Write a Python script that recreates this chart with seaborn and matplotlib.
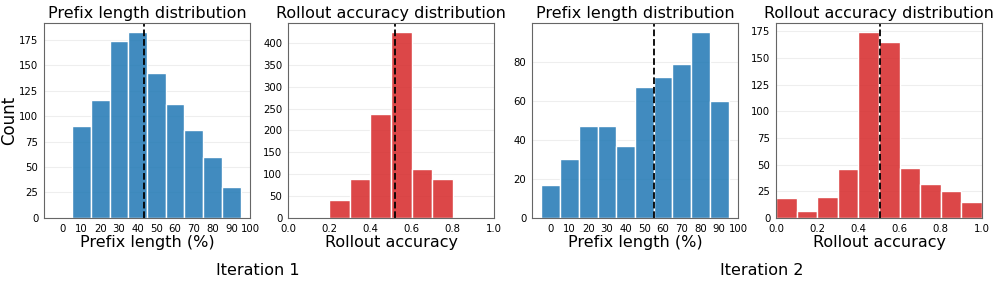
import numpy as np
import pandas as pd
import matplotlib
matplotlib.use("Agg")
from matplotlib import pyplot as plt
import seaborn as sns

# prefix length bins (%), centres of 10-wide bins
it1_prefix = [10, 20, 30, 40, 50, 60, 70, 80, 90]
it1_prefix_count = [90, 116, 174, 182, 142, 112, 86, 60, 30]
it1_prefix_mean = 43.5

it1_acc = [0.25, 0.35, 0.45, 0.55, 0.65, 0.75]
it1_acc_count = [40, 89, 238, 424, 112, 89]
it1_acc_mean = 0.52

it2_prefix = [0, 10, 20, 30, 40, 50, 60, 70, 80, 90]
it2_prefix_count = [17, 30, 47, 47, 37, 67, 72, 79, 95, 60]
it2_prefix_mean = 55

it2_acc = [0.05, 0.15, 0.25, 0.35, 0.45, 0.55, 0.65, 0.75, 0.85, 0.95]
it2_acc_count = [19, 7, 20, 46, 174, 165, 47, 32, 25, 15]
it2_acc_mean = 0.505

sns.set_style("white")
plt.rcParams['font.family'] = ['DejaVu Sans']
plt.rcParams['text.color'] = 'black'
plt.rcParams['axes.labelcolor'] = 'black'
plt.rcParams['xtick.color'] = 'black'
plt.rcParams['ytick.color'] = 'black'

fig, axes = plt.subplots(1, 4, figsize=(9.97, 2.82), dpi=100)
plt.subplots_adjust(left=0.0441, right=0.985, bottom=0.227, top=0.918, wspace=0.184)

blue = "#1f77b4"
red = "#d62728"

panels = [
    (it1_prefix, it1_prefix_count, it1_prefix_mean, 10, (5, 95), blue, "prefix"),
    (it1_acc, it1_acc_count, it1_acc_mean, 0.1, (0.2, 0.8), red, "acc"),
    (it2_prefix, it2_prefix_count, it2_prefix_mean, 10, (-5, 95), blue, "prefix"),
    (it2_acc, it2_acc_count, it2_acc_mean, 0.1, (0.0, 1.0), red, "acc"),
]

for ax, (x, w, m, bw, br, col, kind) in zip(axes, panels):
    df = pd.DataFrame({"value": x, "count": w})
    sns.histplot(data=df, x="value", weights="count", binwidth=bw, binrange=br,
                 color=col, alpha=0.85, edgecolor="white", ax=ax)
    ax.axvline(m, color="black", linestyle="--", linewidth=1.3)
    ax.grid(axis="y", color="#eeeeee", linewidth=0.8)
    ax.set_axisbelow(True)
    for s in ax.spines.values():
        s.set_color("#666666")
    ax.tick_params(labelsize=7.3, length=2.5, pad=1.5, color="#555555")
    if kind == "prefix":
        ax.set_xlim(-10, 100)
        ax.set_xticks(range(0, 101, 10))
        ax.set_title("Prefix length distribution", fontsize=11.5, pad=4)
        ax.set_xlabel("Prefix length (%)", fontsize=11.5, labelpad=1)
    else:
        ax.set_xlim(0, 1)
        ax.set_xticks(np.arange(0, 1.01, 0.2))
        ax.set_title("Rollout accuracy distribution", fontsize=11.5, pad=4)
        ax.set_xlabel("Rollout accuracy", fontsize=11.5, labelpad=1)
    ax.set_ylabel("")

axes[0].set_ylabel("Count", fontsize=12, labelpad=1)
axes[0].set_yticks(range(0, 176, 25))
axes[1].set_yticks(range(0, 401, 50))
axes[2].set_yticks(range(0, 81, 20))
axes[3].set_yticks(range(0, 176, 25))

fig.text(0.259, 0.025, "Iteration 1", fontsize=11.5, ha="center")
fig.text(0.764, 0.025, "Iteration 2", fontsize=11.5, ha="center")

fig.savefig("out.png", dpi=100)
